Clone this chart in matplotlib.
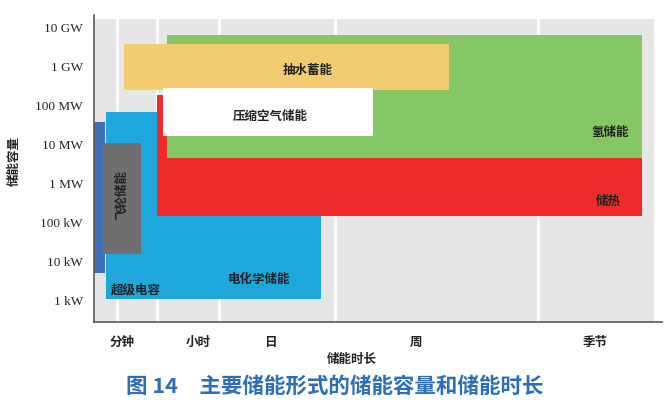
import matplotlib
matplotlib.use("Agg")
import matplotlib.pyplot as plt
from matplotlib.patches import Rectangle

plt.rcParams["font.family"] = ["Noto Sans CJK SC", "DejaVu Sans"]

# duration axis is qualitative: arbitrary units 0..100 across the shaded area
duration_bands = [4.1, 11.25, 22.3, 43.0, 79.3]
duration_labels = ["分钟", "小时", "日", "周", "季节"]
duration_label_pos = [5.0, 18.6, 31.4, 57.5, 89.5]

power_ticks = [1e3, 1e4, 1e5, 1e6, 1e7, 1e8, 1e9, 1e10]
power_labels = ["1 kW", "10 kW", "100 kW", "1 MW", "10 MW", "100 MW", "1 GW", "10 GW"]

# technology ranges: (name, x_start, x_end, power_min W, power_max W)
tech_names = ["超级电容", "电化学储能", "飞轮储能", "储热", "氢储能", "抽水蓄能", "压缩空气储能"]
tech_x0 = [0.0, 2.1, 1.6, 11.25, 13.0, 5.4, 12.3]
tech_x1 = [2.0, 40.5, 8.4, 97.9, 97.9, 63.4, 49.8]
tech_pmin = [5.2e3, 1.12e3, 1.6e4, 1.5e5, 4.7e6, 2.6e8, 1.7e7]
tech_pmax = [3.9e7, 7.1e7, 1.12e7, 1.9e8, 6.6e9, 3.9e9, 2.9e8]
tech_colors = ["#3F6DB6", "#1EA7DC", "#706E71", "#EE2A2A", "#86C765", "#F3CC72", "#FFFFFF"]

# label anchors (x, power) for each technology
label_x = [7.4, 29.5, 5.0, 91.8, 92.1, 38.2, 31.4]
label_p = [1.9e3, 3.6e3, 5.2e5, 3.6e5, 2.05e7, 7.9e8, 5.5e7]
label_rot = [0, 0, 90, 0, 0, 0, 0]

fig = plt.figure(figsize=(6.68, 4.15), dpi=100)
ax = fig.add_axes([94 / 668, 1 - 322 / 415, 568 / 668, 307 / 415])
ax.set_yscale("log")
ax.set_xlim(0, 101.4)
ax.set_ylim(10 ** 2.46, 10 ** 10.33)

# grey backdrop with white column separators
ax.add_patch(Rectangle((0, 10 ** 2.46), 100, 10 ** 10.23 - 10 ** 2.46,
                       facecolor="#E6E6E6", edgecolor="none", zorder=0))
for xb in duration_bands:
    ax.plot([xb, xb], [10 ** 2.46, 10 ** 10.23], color="white", lw=2, zorder=1)

for i, name in enumerate(tech_names):
    ax.add_patch(Rectangle((tech_x0[i], tech_pmin[i]), tech_x1[i] - tech_x0[i],
                           tech_pmax[i] - tech_pmin[i], facecolor=tech_colors[i],
                           edgecolor="none", zorder=2 + i))
    ax.text(label_x[i], label_p[i], name, ha="center", va="center",
            rotation=label_rot[i], fontsize=9, fontweight="bold",
            color="#222222", zorder=20)

ax.set_yticks(power_ticks)
ax.set_yticklabels(power_labels, family=["Liberation Serif"], fontsize=9.5, color="#222222")
ax.minorticks_off()
ax.set_xticks(duration_label_pos)
ax.set_xticklabels(duration_labels, fontsize=9, fontweight="bold", color="#222222")
ax.tick_params(length=0, pad=8)
ax.tick_params(axis="x", pad=10)

for side in ["top", "right"]:
    ax.spines[side].set_visible(False)
for side in ["left", "bottom"]:
    ax.spines[side].set_color("#5A5A5A")
    ax.spines[side].set_linewidth(1.2)

fig.text(14 / 668, 1 - 161 / 415, "储能容量", rotation=90, ha="center", va="center",
         fontsize=9, fontweight="bold", color="#222222")
fig.text(352 / 668, 1 - 359 / 415, "储能时长", ha="center", va="center",
         fontsize=9, fontweight="bold", color="#222222")
fig.text(335 / 668, 1 - 386 / 415, "图 14　主要储能形式的储能容量和储能时长",
         ha="center", va="center", fontsize=15.5, fontweight="bold", color="#2C6FB8")

fig.savefig("out.png", dpi=100)
